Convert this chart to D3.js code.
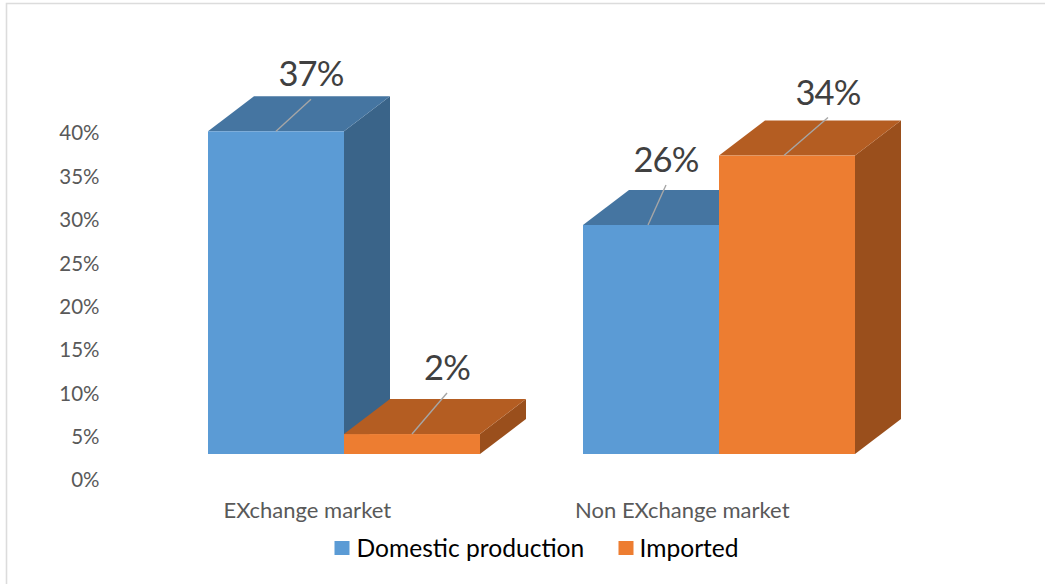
<!DOCTYPE html>
<html><head><meta charset="utf-8">
<script src="https://cdn.jsdelivr.net/npm/d3@7/dist/d3.min.js"></script>
<style>html,body{margin:0;padding:0;background:#fff}svg{display:block}text{font-family:Lato,"Noto Sans",sans-serif}</style>
</head><body><svg id="c" width="1045" height="584"></svg>
<script>
const categories = ["EXchange market", "Non EXchange market"];
const seriesNames = ["Domestic production", "Imported"];
const domesticValues = [37.2, 26.4];
const importedValues = [2.3, 34.4];
const tickValues = [0, 5, 10, 15, 20, 25, 30, 35, 40];

// layout and style, kept apart from the values
const faceColors = [
  {front: "#5B9BD5", top: "#4575A1", side: "#3A6489"},
  {front: "#ED7D31", top: "#B45D22", side: "#9A4F1C"}
];
const depth = {x: 46, y: -35};
const baseShift = -26;
const leaderOffsets = [[[35,-32],[35,-41]],[[18,-40],[44,-38]]];
const leaderStart = [[0,0],[-3,-3]];

const svg = d3.select("#c");
const fmt = d3.format(".0%");
const y = d3.scaleLinear().domain([0, 40]).range([480, 133]);
const x0 = d3.scaleBand().domain(categories).range([156.5, 906.5]);
const x1 = d3.scaleBand().domain(seriesNames).range([0, 272]);

// frame
svg.append("path").attr("d", "M6.5,584V3.5H1045").attr("fill","none").attr("stroke","#dcdcdc").attr("stroke-width",1.6);

// value axis
const yAxis = d3.axisLeft(y).tickValues(tickValues).tickSize(0).tickPadding(0).tickFormat(d => d + "%");
const gy = svg.append("g").attr("transform","translate(99.5,0.4)").call(yAxis);
gy.select(".domain").remove();
gy.selectAll("text").attr("font-size",20.5).attr("fill","#595959").style("font-family",'Lato,"Noto Sans",sans-serif');

// category axis
const xAxis = d3.axisBottom(x0).tickSize(0).tickPadding(0);
const gx = svg.append("g").attr("transform","translate(-36.7,502)").call(xAxis);
gx.select(".domain").remove();
gx.selectAll("text").attr("font-size",22).attr("fill","#595959").style("font-family",'Lato,"Noto Sans",sans-serif');

// 3-D bars
const yBar = v => y(v) + baseShift;
const poly = pts => pts.map(p => p.join(",")).join(" ");
const series = [domesticValues, importedValues];
const labels = [];
series.forEach((vals, s) => {
  vals.forEach((v, c) => {
    const cx = x0(categories[c]) + x0.bandwidth()/2 - 136;
    const l = cx + x1(seriesNames[s]), r = l + x1.bandwidth();
    const t = yBar(v), b = yBar(0);
    const g = svg.append("g");
    const col = faceColors[s];
    g.append("polygon").attr("points", poly([[r,t],[r+depth.x,t+depth.y],[r+depth.x,b+depth.y],[r,b]])).attr("fill",col.side);
    g.append("polygon").attr("points", poly([[l,t],[l+depth.x,t+depth.y],[r+depth.x,t+depth.y],[r,t]])).attr("fill",col.top);
    g.append("rect").attr("x",l).attr("y",t).attr("width",r-l).attr("height",b-t).attr("fill",col.front);
    labels.push({v, s, c, l, r, t});
  });
});

// leaders and data labels
labels.forEach(d => {
  const sx = (d.l+d.r)/2 + leaderStart[d.c][d.s], sy = d.t;
  const [dx, dy] = leaderOffsets[d.c][d.s];
  svg.append("line").attr("x1",sx).attr("y1",sy).attr("x2",sx+dx).attr("y2",sy+dy)
    .attr("stroke","#a6a6a6").attr("stroke-width",1.4);
  svg.append("text").attr("x",sx+dx).attr("y",sy+dy-13).attr("text-anchor","middle")
    .attr("font-size",34.5).attr("letter-spacing",-0.9).attr("fill","#404040").text(fmt(d.v/100));
});

// legend
const legendX = [334.5, 618.5];
const legendGap = [22, 21];
seriesNames.forEach((n, i) => {
  svg.append("rect").attr("x",legendX[i]).attr("y",541).attr("width",15).attr("height",14).attr("fill",faceColors[i].front);
  svg.append("text").attr("x",legendX[i]+legendGap[i]).attr("y",557).attr("font-size",24.6).attr("fill","#000").text(n);
});
</script></body></html>
